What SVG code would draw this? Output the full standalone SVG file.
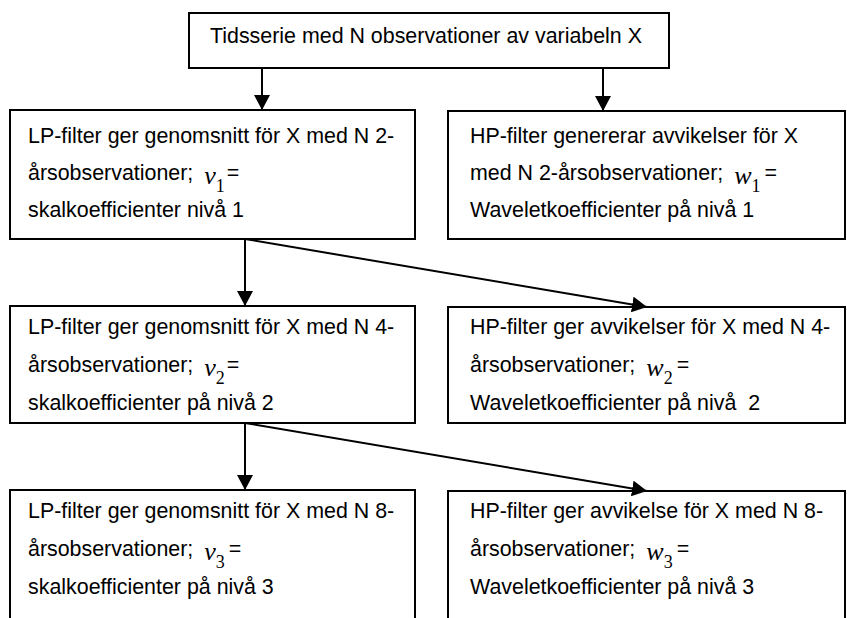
<svg xmlns="http://www.w3.org/2000/svg" width="847" height="618" viewBox="0 0 847 618">
<defs>
<style>
.box{fill:#fff;stroke:#000;stroke-width:2}
.t{font-family:"Liberation Sans",Arial,sans-serif;font-size:21.4px;fill:#000}
.mi{font-family:"Liberation Serif","Times New Roman",serif;font-style:italic;font-size:26px}
.sub{font-family:"Liberation Serif","Times New Roman",serif;font-size:18px}
.c{stroke:#000;stroke-width:2;fill:none}
</style>
<marker id="ah" viewBox="0 0 15 16" refX="15" refY="8" markerWidth="15" markerHeight="16" markerUnits="userSpaceOnUse" orient="auto">
<path d="M0,0 L15,8 L0,16 Z" fill="#000"/>
</marker>
</defs>
<rect width="847" height="618" fill="#fff"/>
<g id="top">
<rect class="box" x="189" y="13" width="480" height="55"/>
<text class="t" x="210" y="43">Tidsserie med N observationer av variabeln X</text>
</g>
<g id="lp1">
<rect class="box" x="10" y="110" width="405" height="129"/>
<text class="t" x="28" y="143">LP-filter ger genomsnitt för X med N 2-</text>
<text class="t" x="28" y="180">årsobservationer;<tspan class="mi" dx="11" dy="4">v</tspan><tspan class="sub" dy="8">1</tspan><tspan dx="2" dy="-12">=</tspan></text>
<text class="t" x="28" y="217">skalkoefficienter nivå 1</text>
</g>
<g id="hp1">
<rect class="box" x="448" y="111" width="397" height="128"/>
<text class="t" x="470" y="143">HP-filter genererar avvikelser för X</text>
<text class="t" x="470" y="180">med N 2-årsobservationer;<tspan class="mi" dx="11" dy="4">w</tspan><tspan class="sub" dy="8">1</tspan><tspan dx="4" dy="-12">=</tspan></text>
<text class="t" x="470" y="217">Waveletkoefficienter på nivå 1</text>
</g>
<g id="lp2">
<rect class="box" x="10" y="306" width="405" height="117"/>
<text class="t" x="28" y="334">LP-filter ger genomsnitt för X med N 4-</text>
<text class="t" x="28" y="372">årsobservationer;<tspan class="mi" dx="11" dy="4">v</tspan><tspan class="sub" dy="8">2</tspan><tspan dx="2" dy="-12">=</tspan></text>
<text class="t" x="28" y="410">skalkoefficienter på nivå 2</text>
</g>
<g id="hp2">
<rect class="box" x="448" y="307" width="397" height="116"/>
<text class="t" x="470" y="334">HP-filter ger avvikelser för X med N 4-</text>
<text class="t" x="470" y="372">årsobservationer;<tspan class="mi" dx="11" dy="4">w</tspan><tspan class="sub" dy="8">2</tspan><tspan dx="4" dy="-12">=</tspan></text>
<text class="t" x="470" y="410" xml:space="preserve">Waveletkoefficienter på nivå  2</text>
</g>
<g id="lp3">
<rect class="box" x="10" y="490" width="405" height="140"/>
<text class="t" x="28" y="518">LP-filter ger genomsnitt för X med N 8-</text>
<text class="t" x="28" y="556">årsobservationer;<tspan class="mi" dx="11" dy="4">v</tspan><tspan class="sub" dy="8">3</tspan><tspan dx="4" dy="-12">=</tspan></text>
<text class="t" x="28" y="594">skalkoefficienter på nivå 3</text>
</g>
<g id="hp3">
<rect class="box" x="448" y="491" width="397" height="140"/>
<text class="t" x="470" y="518">HP-filter ger avvikelse för X med N 8-</text>
<text class="t" x="470" y="556">årsobservationer;<tspan class="mi" dx="11" dy="4">w</tspan><tspan class="sub" dy="8">3</tspan><tspan dx="4" dy="-12">=</tspan></text>
<text class="t" x="470" y="594">Waveletkoefficienter på nivå 3</text>
</g>
<g id="connectors">
<line class="c" x1="262" y1="68" x2="262" y2="110" marker-end="url(#ah)"/>
<line class="c" x1="603" y1="68" x2="603" y2="111" marker-end="url(#ah)"/>
<line class="c" x1="245" y1="239" x2="245" y2="306" marker-end="url(#ah)"/>
<line class="c" x1="245" y1="239" x2="647" y2="307" marker-end="url(#ah)"/>
<line class="c" x1="245" y1="423" x2="245" y2="490" marker-end="url(#ah)"/>
<line class="c" x1="245" y1="423" x2="647" y2="491" marker-end="url(#ah)"/>
</g>
</svg>
